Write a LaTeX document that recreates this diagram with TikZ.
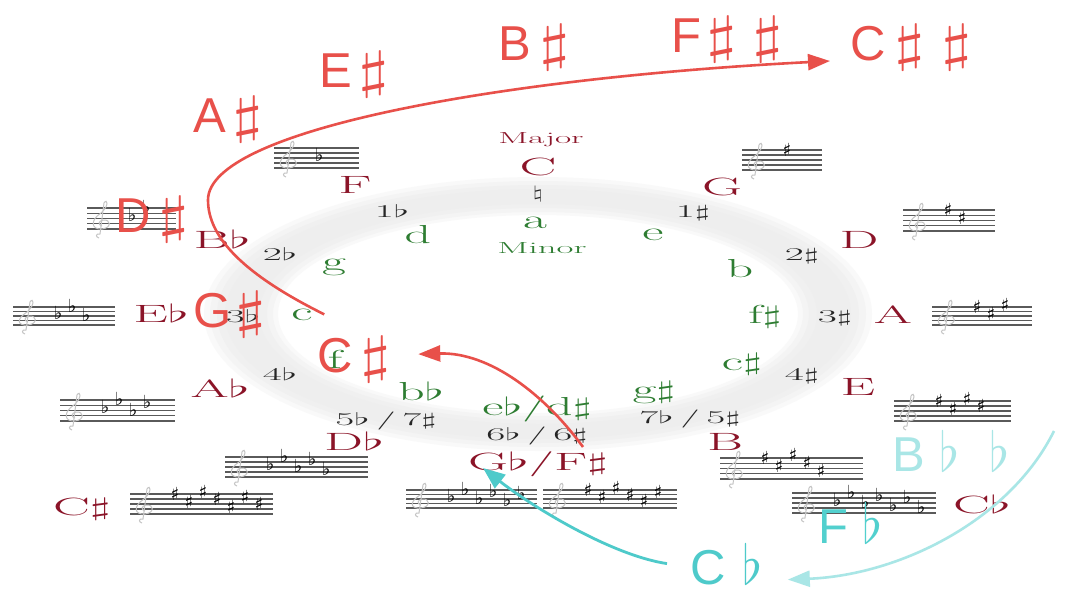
\documentclass[tikz,border=0pt]{standalone}
\usepackage{fontspec}
\newfontfamily\sansf{Liberation Sans}
\newfontfamily\symf{DejaVu Sans}
\usetikzlibrary{arrows.meta,calc}
\definecolor{majc}{HTML}{8B1428}
\definecolor{minc}{HTML}{2E7D32}
\definecolor{numc}{HTML}{262626}
\definecolor{redc}{HTML}{E8504A}
\definecolor{cyanc}{HTML}{4ECACA}
\definecolor{cyanm}{HTML}{52D0CE}
\definecolor{cyanl}{HTML}{A9E6E6}
\definecolor{clefc}{HTML}{C4C4C4}
\definecolor{staffc}{HTML}{5A5A5A}
\newcommand{\majtxt}[1]{\scalebox{2.2}[1]{#1}}
\newcommand{\mintxt}[1]{\scalebox{2.0}[1]{#1}}
\newcommand{\numtxt}[1]{\scalebox{2.3}[1]{#1}}
\newcommand{\bigsharp}{{\fontsize{10}{10}\selectfont\scalebox{7.84}[5.15]{$\sharp$}}}
\newcommand{\bigflat}{{\fontsize{10}{10}\selectfont\scalebox{5.15}[5.5]{$\flat$}}}
\tikzset{
  maj/.style={text=majc, font=\fontsize{25}{25}\selectfont, inner sep=0.5pt, anchor=base},
  minr/.style={text=minc, font=\fontsize{26}{26}\selectfont, inner sep=0.5pt, anchor=base},
  num/.style={text=numc, font=\fontsize{18}{18}\selectfont, inner sep=0.5pt, anchor=base},
  redlab/.style={text=redc, font=\sansf\fontsize{49}{49}\selectfont, inner sep=0pt, anchor=base west},
  cyanlab/.style={font=\sansf\fontsize{49}{49}\selectfont, inner sep=0pt, anchor=base west},
  acc/.style={text=black, font=\symf\fontsize{18}{18}\selectfont, inner sep=0pt},
  staffline/.style={draw=staffc, line width=1.1pt},
  clefline/.style={draw=clefc, line width=1pt},
  redarrow/.style={draw=redc, line width=2.6pt, -{Triangle[length=22pt,width=16pt]}},
  cyanarrow/.style={draw=cyanc, line width=2.8pt, -{Triangle[length=22pt,width=17pt]}},
  lcyanarrow/.style={draw=cyanl, line width=2.6pt, -{Triangle[length=22pt,width=16pt]}},
}
\begin{document}
\begin{tikzpicture}[x=1pt,y=-1pt]
\useasboundingbox (0,0) rectangle (1080,600);
\fill[white] (0,0) rectangle (1080,600);

% ring (soft band)
\fill[gray!5, even odd rule] (538,314) ellipse [x radius=334, y radius=137] (538,314) ellipse [x radius=260, y radius=99];
\fill[gray!9, even odd rule] (538,314) ellipse [x radius=328, y radius=133] (538,314) ellipse [x radius=265, y radius=102];
\fill[gray!12, even odd rule] (538,314) ellipse [x radius=321, y radius=129] (538,314) ellipse [x radius=271, y radius=106];
\fill[gray!13, even odd rule] (538,314) ellipse [x radius=313, y radius=125] (538,314) ellipse [x radius=279, y radius=110];

% major keys
\node[maj, font=\fontsize{16}{16}\selectfont] (lmajor) at (541,143) {\majtxt{Major}};
\node[maj] (kC) at (538,175) {\majtxt{C}};
\node[maj] (kF) at (355,193) {\majtxt{F}};
\node[maj] (kG) at (722,195) {\majtxt{G}};
\node[maj] (kBb) at (222,248) {\majtxt{B$\flat$}};
\node[maj] (kD) at (859,248) {\majtxt{D}};
\node[maj] (kEb) at (161,322) {\majtxt{E$\flat$}};
\node[maj] (kA) at (893,323) {\majtxt{A}};
\node[maj] (kAb) at (220,397) {\majtxt{A$\flat$}};
\node[maj] (kE) at (858,395) {\majtxt{E}};
\node[maj] (kDb) at (354,450) {\majtxt{D$\flat$}};
\node[maj] (kB) at (725,450) {\majtxt{B}};
\node[maj] (gfs) at (538,470) {\majtxt{G$\flat$/F$\sharp$}};
\node[maj] (kCs) at (82,515) {\majtxt{C$\sharp$}};
\node[maj] (kCb) at (982,513) {\majtxt{C$\flat$}};

% minor keys
\node[minr] (ma) at (535,228) {\mintxt{a}};
\node[minr, font=\fontsize{16}{16}\selectfont] (lminor) at (542,253) {\numtxt{Minor}};
\node[minr] (md) at (418,243) {\mintxt{d}};
\node[minr] (me) at (653,240) {\mintxt{e}};
\node[minr] (mg) at (334,270) {\mintxt{g}};
\node[minr] (mb) at (740,277) {\mintxt{b}};
\node[minr] (mc) at (302,320) {\mintxt{c}};
\node[minr] (mfs) at (765,323) {\mintxt{f$\sharp$}};
\node[minr] (mf) at (335,368) {\mintxt{f}};
\node[minr] (mcs) at (742,370) {\mintxt{c$\sharp$}};
\node[minr] (mbb) at (421,400) {\mintxt{b$\flat$}};
\node[minr] (mgs) at (654,398) {\mintxt{g$\sharp$}};
\node[minr] (meb) at (537,415) {\mintxt{e$\flat$/d$\sharp$}};

% signature counts
\node[num, anchor=center] (nat) at (538,194) {\scalebox{1.6}[1]{$\natural$}};
\node[num] (n1b) at (392,217) {\numtxt{1$\flat$}};
\node[num] (n1s) at (693,217) {\numtxt{1$\sharp$}};
\node[num] (n2b) at (280,260) {\numtxt{2$\flat$}};
\node[num] (n2s) at (802,260) {\numtxt{2$\sharp$}};
\node[num] (n3b) at (243,322) {\numtxt{3$\flat$}};
\node[num] (n3s) at (835,322) {\numtxt{3$\sharp$}};
\node[num] (n4b) at (280,380) {\numtxt{4$\flat$}};
\node[num] (n4s) at (802,380) {\numtxt{4$\sharp$}};
\node[num] (n57) at (386,425) {\numtxt{5$\flat$\,/\,7$\sharp$}};
\node[num] (n75) at (690,423) {\numtxt{7$\flat$\,/\,5$\sharp$}};
\node[num] (n66) at (537,440) {\numtxt{6$\flat$\,/\,6$\sharp$}};

% staves
\foreach \xa/\xb/\yt/\yb/\typ/\n in {274/359/148/168/f/1, 742/822/150/170/s/1, 87/176/208/229/f/2, 903/995/210/231/s/2, 13/115/307/325/f/3, 932/1032/307/325/s/3, 60/175/400/421/f/4, 894/1011/401/421/s/4, 225/368/457/477/f/5, 720/863/458/479/s/5, 406/537/490/508/f/6, 543/677/490/508/s/6, 792/936/493/513/f/7, 130/273/494/514/s/7}{
  \foreach \k in {0,...,4}{
    \draw[staffline] (\xa,{\yt+\k*(\yb-\yt)/4}) -- (\xb,{\yt+\k*(\yb-\yt)/4});
  }
  \draw[clefline]
    ({\xa+12},{\yb+9}) .. controls ({\xa+8},{\yb+8}) and ({\xa+9},{\yb+4}) .. ({\xa+13},{\yb+5})
    -- ({\xa+17},{\yt-5})
    .. controls ({\xa+20},{\yt-10}) and ({\xa+23},{\yt-3}) .. ({\xa+14},{\yt+5})
    .. controls ({\xa+3},{\yt+12}) and ({\xa+4},{\yb+1}) .. ({\xa+15},{\yb})
    .. controls ({\xa+25},{\yb-1}) and ({\xa+24},{\yb-10}) .. ({\xa+16},{\yb-9})
    .. controls ({\xa+11},{\yb-8}) and ({\xa+11},{\yb-4}) .. ({\xa+15},{\yb-3});
  \foreach \i in {1,...,\n}{
    \if\typ s
      \pgfmathsetmacro\st{{8,5,9,6,3,7,4}[\i-1]}
      \node[acc, anchor=center] (acc-\xa-\i) at ({\xa+45+(\i-1)*14},{\yb-\st*(\yb-\yt)/8}) {♯};
    \else
      \pgfmathsetmacro\st{{4,7,3,6,2,5,1}[\i-1]}
      \node[acc, anchor=base] (acc-\xa-\i) at ({\xa+45+(\i-1)*14},{\yb-\st*(\yb-\yt)/8+3}) {♭};
    \fi
  }
}

% red labels
\node[redlab] (ash) at (193,132) {A\hspace{7pt}\bigsharp};
\node[redlab] (esh) at (319,87) {E\hspace{7pt}\bigsharp};
\node[redlab] (bsh) at (498,60) {B\hspace{9pt}\bigsharp};
\node[redlab] (fshsh) at (671,52) {F\hspace{5pt}\bigsharp\hspace{16pt}\bigsharp};
\node[redlab] (cshsh) at (850,60) {C\hspace{9pt}\bigsharp\hspace{16pt}\bigsharp};
\node[redlab] (dsh) at (115,232) {D\hspace{8pt}\bigsharp};
\node[redlab] (gsh) at (193,327) {G\hspace{4pt}\bigsharp};
\node[redlab] (csh) at (317,372) {C\hspace{8pt}\bigsharp};

% cyan labels
\node[cyanlab, text=cyanl] (bflfl) at (892,471) {B\hspace{15pt}\bigflat\hspace{30pt}\bigflat};
\node[cyanlab, text=cyanm] (ffl) at (818,543) {F\hspace{14pt}\bigflat};
\node[cyanlab, text=cyanc] (cfl) at (690,584) {C\hspace{17pt}\bigflat};

% connectors
\coordinate (rbstart) at (583,447);
\coordinate (cyend) at (483,468);
\coordinate (lcstart) at (1054,431);

\draw[redarrow] ($(mc.east)+(11,0)$) .. controls (245,275) and (208,238) .. (208,200)
  .. controls (208,130) and (500,78) .. ($(cshsh.base west)+(-20,1)$);
\draw[redarrow] (rbstart) .. controls (545,395) and (490,352) .. ($(csh.east)+(27,-5)$);
\draw[cyanarrow] ($(cfl.west)+(-23,0)$) .. controls (610,555) and (530,505) .. (cyend);
\draw[lcyanarrow] (lcstart) .. controls (1010,520) and (900,575) .. ($(cfl.east)+(25,16)$);
\end{tikzpicture}
\end{document}
